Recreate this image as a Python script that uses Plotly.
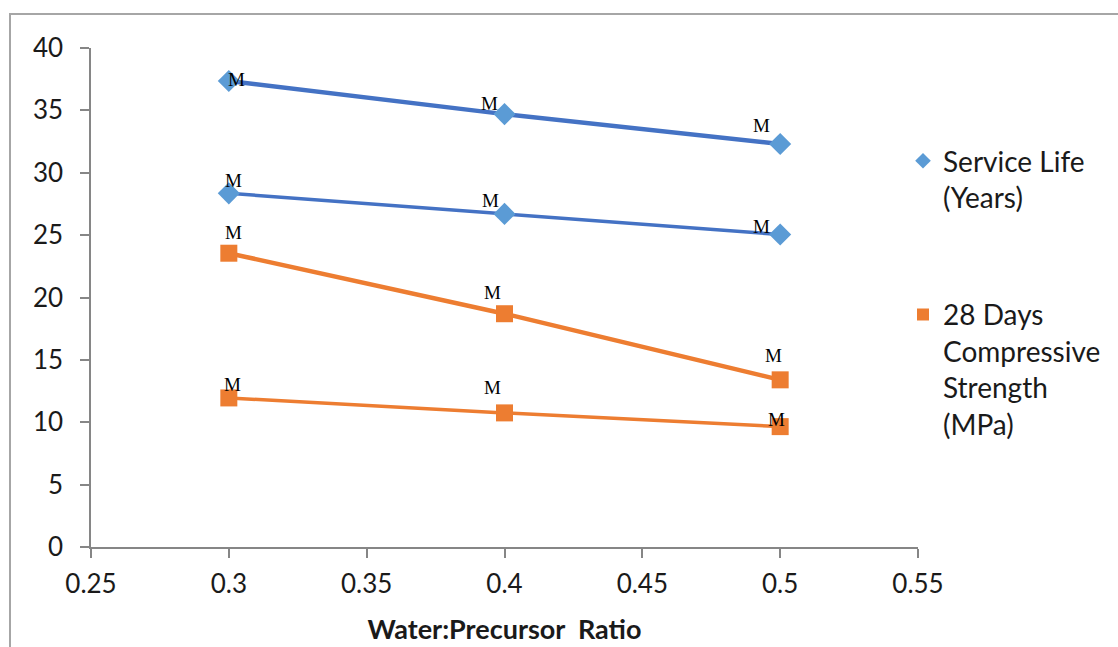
import plotly.graph_objects as go

# Water:precursor ratios tested
ratio = [0.3, 0.4, 0.5]

# Service life (years), two mixes
service_life_a = [37.35, 34.7, 32.3]
service_life_b = [28.35, 26.7, 25.05]

# 28-day compressive strength (MPa), two mixes
strength_a = [23.55, 18.7, 13.4]
strength_b = [11.95, 10.75, 9.65]

point_label = "M"

x_ticks = [0.25, 0.3, 0.35, 0.4, 0.45, 0.5, 0.55]
y_ticks = [0, 5, 10, 15, 20, 25, 30, 35, 40]

W, H = 1118, 647
L, R, T, B = 91, 200, 48, 100
PW, PH = W - L - R, H - T - B

BLUE_LINE = "#4472C4"
BLUE_MARK = "#5B9BD5"
ORANGE = "#ED7D31"
FONT = "Lato, Carlito, 'Open Sans', sans-serif"

fig = go.Figure()

# connecting lines (not in legend)
for ys, col, w in [(service_life_a, BLUE_LINE, 4.5), (service_life_b, BLUE_LINE, 3.5),
                   (strength_a, ORANGE, 4.5), (strength_b, ORANGE, 3.5)]:
    fig.add_trace(go.Scatter(x=ratio, y=ys, mode="lines", showlegend=False,
                             line=dict(color=col, width=w), hoverinfo="skip"))

# marker series
fig.add_trace(go.Scatter(
    x=ratio + ratio, y=service_life_a + service_life_b, mode="markers",
    name="Service Life<br>(Years)", legendgroup="life",
    marker=dict(symbol="diamond", size=17, color=BLUE_MARK)))
fig.add_trace(go.Scatter(
    x=ratio + ratio, y=strength_a + strength_b, mode="markers",
    name="28 Days<br>Compressive<br>Strength<br>(MPa)", legendgroup="strength",
    marker=dict(symbol="square", size=17, color=ORANGE)))

# data-label pixel offsets per point (dx, dy)
label_offsets = [
    [(8, 2), (-15, 11), (-19, 19)],
    [(5, 13), (-14, 13), (-19, 8)],
    [(5, 21), (-12, 21), (-7, 24)],
    [(4, 13), (-12, 25), (-4, 7)],
]
for ys, offs in zip([service_life_a, service_life_b, strength_a, strength_b], label_offsets):
    for xv, yv, (dx, dy) in zip(ratio, ys, offs):
        fig.add_annotation(x=xv, y=yv, text=point_label, showarrow=False,
                           xshift=dx, yshift=dy,
                           font=dict(family="'Liberation Serif', 'Times New Roman', serif",
                                     size=19, color="#000000"))

# outer chart frame
fig.add_shape(type="rect", xref="paper", yref="paper",
              x0=(10 - L) / PW, x1=(W + 20 - L) / PW,
              y0=-(H + 20 - T - PH) / PH, y1=(PH + T - 14) / PH,
              line=dict(color="#A6A6A6", width=2), fillcolor="rgba(0,0,0,0)", layer="below")

axis_common = dict(showgrid=False, zeroline=False, showline=True, linecolor="#868686",
                   linewidth=1.5, ticks="outside", ticklen=9, tickcolor="#868686",
                   tickwidth=1.5, automargin=False,
                   tickfont=dict(family=FONT, size=26, color="#1a1a1a"))

fig.update_xaxes(range=[0.25, 0.55], tickvals=x_ticks,
                 ticktext=[f"{v:g}" for v in x_ticks], ticklabelstandoff=4,
                 title=dict(text="<b>Water:Precursor  Ratio</b>", standoff=22,
                            font=dict(family=FONT, size=27, color="#1a1a1a")),
                 **axis_common)
fig.update_yaxes(range=[0, 40], tickvals=y_ticks, ticklabelstandoff=12, **axis_common)

fig.update_layout(
    width=W, height=H,
    margin=dict(l=L, r=R, t=T, b=B, autoexpand=False),
    paper_bgcolor="white", plot_bgcolor="white",
    font=dict(family=FONT),
    legend=dict(x=(903 - L) / PW, xanchor="left", y=(PH + T - 136) / PH, yanchor="top",
                valign="top",
                font=dict(family=FONT, size=28, color="#1a1a1a"),
                tracegroupgap=78, itemsizing="constant", bgcolor="rgba(0,0,0,0)"),
)

fig.write_html("out.html")
